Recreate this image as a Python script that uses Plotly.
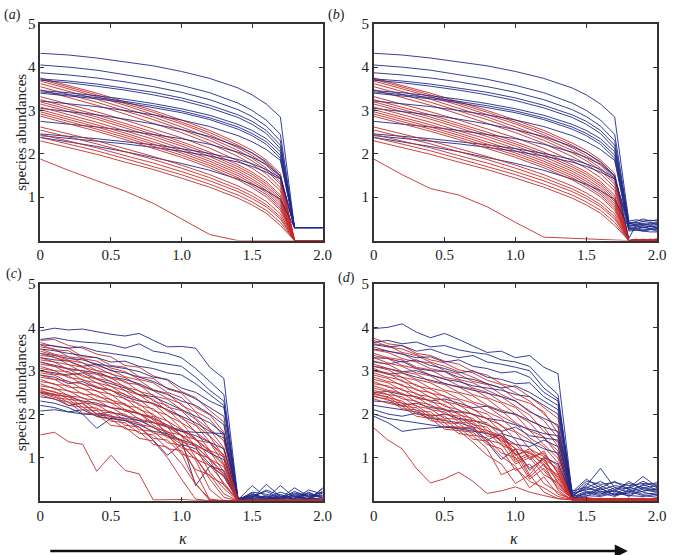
import plotly.graph_objects as go

# ---------------- data ----------------
# panels (a) and (b): smooth curves, kappa sample points of the main body
BODY_X = [0, 0.2, 0.4, 0.6, 0.8, 1.0, 1.2, 1.4, 1.5, 1.6, 1.7]
A_TAIL_X = [1.8, 1.9, 2.0]
B_TAIL_X = [1.8, 1.85, 1.9, 1.95, 2.0]

A_BLUE = [
    [4.32, 4.28, 4.21, 4.12, 4.03, 3.90, 3.74, 3.52, 3.36, 3.15, 2.85],
    [4.05, 4.00, 3.93, 3.83, 3.72, 3.58, 3.41, 3.17, 3.00, 2.78, 2.45],
    [3.87, 3.82, 3.75, 3.66, 3.55, 3.42, 3.25, 3.02, 2.86, 2.64, 2.30],
    [3.73, 3.68, 3.61, 3.52, 3.42, 3.29, 3.12, 2.90, 2.75, 2.54, 2.20],
    [3.70, 3.64, 3.56, 3.47, 3.36, 3.23, 3.06, 2.84, 2.68, 2.47, 2.12],
    [3.46, 3.41, 3.34, 3.26, 3.16, 3.04, 2.89, 2.68, 2.54, 2.35, 2.05],
    [3.43, 3.37, 3.30, 3.21, 3.11, 2.99, 2.83, 2.62, 2.47, 2.28, 1.97],
    [3.40, 3.34, 3.27, 3.18, 3.07, 2.95, 2.79, 2.57, 2.42, 2.22, 1.90],
    [3.22, 3.16, 3.09, 3.00, 2.90, 2.78, 2.63, 2.42, 2.28, 2.10, 1.85],
    [3.05, 2.98, 2.90, 2.80, 2.69, 2.56, 2.40, 2.17, 2.02, 1.82, 1.50],
    [2.75, 2.69, 2.62, 2.54, 2.45, 2.35, 2.22, 2.04, 1.92, 1.76, 1.48],
    [2.46, 2.41, 2.35, 2.28, 2.21, 2.12, 2.01, 1.87, 1.77, 1.64, 1.45],
    [2.42, 2.36, 2.30, 2.23, 2.15, 2.06, 1.95, 1.81, 1.71, 1.58, 1.42],
    [2.38, 2.28, 2.17, 2.05, 1.92, 1.78, 1.62, 1.42, 1.30, 1.15, 0.95],
]
A_BLUE_TAIL = [0.3, 0.3, 0.3]

A_RED = [
    [3.75, 3.57, 3.40, 3.20, 3.00, 2.78, 2.54, 2.25, 2.08, 1.86, 1.55],
    [3.72, 3.54, 3.36, 3.16, 2.96, 2.73, 2.49, 2.20, 2.02, 1.79, 1.48],
    [3.68, 3.50, 3.32, 3.12, 2.91, 2.69, 2.44, 2.14, 1.96, 1.74, 1.42],
    [3.62, 3.44, 3.26, 3.05, 2.85, 2.62, 2.37, 2.08, 1.90, 1.67, 1.35],
    [3.55, 3.37, 3.19, 2.99, 2.79, 2.56, 2.31, 2.02, 1.84, 1.62, 1.30],
    [3.48, 3.30, 3.12, 2.92, 2.71, 2.49, 2.24, 1.94, 1.76, 1.54, 1.22],
    [3.32, 3.15, 2.97, 2.78, 2.58, 2.37, 2.13, 1.84, 1.67, 1.45, 1.15],
    [3.25, 3.07, 2.90, 2.70, 2.50, 2.28, 2.04, 1.75, 1.58, 1.36, 1.05],
    [3.20, 3.02, 2.85, 2.65, 2.45, 2.23, 1.99, 1.70, 1.53, 1.31, 1.00],
    [3.15, 2.97, 2.80, 2.60, 2.40, 2.18, 1.94, 1.65, 1.48, 1.26, 0.95],
    [3.08, 2.91, 2.73, 2.53, 2.34, 2.12, 1.88, 1.60, 1.42, 1.21, 0.90],
    [3.02, 2.85, 2.67, 2.48, 2.28, 2.07, 1.83, 1.55, 1.37, 1.16, 0.85],
    [2.97, 2.80, 2.62, 2.43, 2.23, 2.02, 1.78, 1.50, 1.32, 1.11, 0.80],
    [2.92, 2.75, 2.57, 2.38, 2.18, 1.97, 1.73, 1.45, 1.27, 1.06, 0.75],
    [2.87, 2.70, 2.52, 2.33, 2.13, 1.92, 1.68, 1.40, 1.22, 1.01, 0.70],
    [2.62, 2.46, 2.30, 2.12, 1.94, 1.74, 1.52, 1.26, 1.10, 0.90, 0.62],
    [2.55, 2.39, 2.23, 2.05, 1.87, 1.67, 1.45, 1.19, 1.03, 0.83, 0.55],
    [2.45, 2.29, 2.14, 1.96, 1.79, 1.59, 1.38, 1.13, 0.97, 0.78, 0.50],
    [2.38, 2.22, 2.07, 1.89, 1.71, 1.52, 1.30, 1.05, 0.89, 0.70, 0.42],
    [2.30, 2.14, 1.99, 1.81, 1.64, 1.44, 1.23, 0.98, 0.82, 0.63, 0.35],
    [1.88, 1.62, 1.38, 1.14, 0.86, 0.50, 0.14, 0.00, 0.00, 0.00, 0.00],
]
A_RED_TAIL = [0, 0, 0]

B_RED_LOW = [1.88, 1.52, 1.20, 1.05, 0.78, 0.42, 0.08, 0.05, 0.04, 0.03, 0.02]
B_BLUE_TAILS = [
    [0.45, 0.48, 0.45, 0.47, 0.45],
    [0.42, 0.40, 0.44, 0.42, 0.40],
    [0.40, 0.36, 0.38, 0.35, 0.37],
    [0.38, 0.42, 0.36, 0.40, 0.38],
    [0.35, 0.33, 0.35, 0.32, 0.34],
    [0.33, 0.35, 0.30, 0.33, 0.30],
    [0.30, 0.28, 0.32, 0.28, 0.30],
    [0.28, 0.30, 0.26, 0.28, 0.25],
    [0.25, 0.27, 0.24, 0.26, 0.22],
    [0.22, 0.24, 0.22, 0.20, 0.20],
    [0.05, 0.35, 0.30, 0.33, 0.30],
    [0.35, 0.38, 0.40, 0.36, 0.42],
    [0.40, 0.44, 0.50, 0.45, 0.48],
    [0.30, 0.25, 0.22, 0.25, 0.28],
]
B_RED_TAILS = [
    [0, 0.02, 0.01, 0.03, 0.02], [0, 0, 0.02, 0, 0.01], [0, 0.01, 0, 0.02, 0],
    [0, 0.03, 0.02, 0, 0.02], [0, 0, 0, 0.01, 0], [0, 0.02, 0.03, 0.02, 0.04],
    [0, 0, 0.01, 0, 0], [0, 0.01, 0, 0.03, 0.01], [0, 0, 0.02, 0.01, 0],
    [0, 0.02, 0, 0, 0.02], [0, 0, 0.01, 0.02, 0], [0, 0.01, 0.03, 0, 0.01],
    [0, 0, 0, 0.02, 0.03], [0, 0.03, 0.01, 0, 0], [0, 0, 0.02, 0.01, 0.02],
    [0, 0.02, 0, 0.03, 0], [0, 0, 0.01, 0, 0.01], [0, 0.01, 0.02, 0.02, 0],
    [0, 0, 0, 0.01, 0.02], [0, 0.02, 0.01, 0, 0], [0, 0.01, 0.01, 0.01, 0.01],
]

# panels (c) and (d): noisy runs, kappa step 0.1
CD_X = [0, 0.1, 0.2, 0.3, 0.4, 0.5, 0.6, 0.7, 0.8, 0.9, 1.0,
        1.1, 1.2, 1.3, 1.4, 1.5, 1.6, 1.7, 1.8, 1.9, 2.0]

C_BLUE = [
    [3.92, 3.98, 3.94, 3.96, 3.90, 3.84, 3.80, 3.86, 3.70, 3.55, 3.56, 3.52, 3.08, 2.82, 0.05, 0.10, 0.22, 0.06, 0.12, 0.04, 0.28],
    [3.72, 3.76, 3.70, 3.66, 3.64, 3.60, 3.52, 3.62, 3.45, 3.40, 3.30, 3.05, 2.75, 2.45, 0.02, 0.35, 0.08, 0.05, 0.30, 0.10, 0.12],
    [3.60, 3.57, 3.52, 3.55, 3.45, 3.40, 3.35, 3.30, 3.20, 3.15, 3.10, 2.85, 2.55, 2.30, 0.03, 0.05, 0.38, 0.10, 0.04, 0.20, 0.05],
    [3.50, 3.46, 3.40, 3.35, 3.30, 3.20, 3.22, 3.10, 3.05, 2.95, 2.90, 2.70, 2.45, 2.20, 0.05, 0.12, 0.05, 0.35, 0.08, 0.05, 0.22],
    [3.40, 3.35, 3.28, 3.25, 3.15, 3.10, 3.05, 2.98, 2.85, 2.80, 2.60, 2.50, 2.30, 2.15, 0.00, 0.20, 0.15, 0.08, 0.18, 0.12, 0.08],
    [3.30, 3.25, 3.22, 3.10, 3.15, 3.00, 2.95, 2.85, 2.75, 2.60, 2.50, 2.35, 2.15, 1.95, 0.04, 0.08, 0.25, 0.12, 0.05, 0.25, 0.15],
    [3.20, 3.12, 3.05, 3.00, 2.95, 2.85, 2.80, 2.70, 2.55, 2.45, 2.30, 2.20, 2.00, 1.75, 0.02, 0.15, 0.05, 0.20, 0.10, 0.03, 0.18],
    [3.00, 2.95, 2.90, 2.95, 2.80, 2.70, 2.60, 2.45, 2.40, 2.25, 2.10, 1.95, 1.80, 1.55, 0.06, 0.03, 0.12, 0.04, 0.22, 0.08, 0.03],
    [2.90, 2.85, 2.70, 2.75, 2.60, 2.55, 2.40, 2.30, 2.25, 2.10, 1.95, 1.80, 1.60, 1.45, 0.03, 0.18, 0.03, 0.15, 0.02, 0.15, 0.10],
    [2.50, 2.45, 2.40, 2.30, 2.25, 2.15, 2.10, 2.00, 1.90, 1.75, 1.60, 1.50, 1.35, 1.20, 0.01, 0.06, 0.10, 0.02, 0.14, 0.05, 0.02],
    [2.40, 2.35, 2.20, 2.25, 2.00, 2.05, 1.95, 1.85, 1.70, 1.50, 1.40, 0.35, 0.80, 0.70, 0.00, 0.10, 0.02, 0.08, 0.06, 0.18, 0.06],
    [2.30, 2.25, 2.15, 2.00, 1.67, 1.90, 1.85, 1.75, 1.60, 1.55, 1.40, 1.30, 1.10, 0.95, 0.02, 0.02, 0.06, 0.03, 0.10, 0.02, 0.30],
    [2.20, 2.15, 2.05, 2.10, 1.95, 1.90, 1.85, 1.70, 1.40, 1.05, 1.30, 1.20, 0.85, 0.55, 0.00, 0.04, 0.02, 0.10, 0.03, 0.06, 0.04],
    [2.07, 2.10, 2.05, 2.00, 1.98, 1.95, 1.90, 1.85, 1.80, 1.70, 1.60, 1.58, 1.56, 1.55, 0.03, 0.14, 0.08, 0.02, 0.16, 0.10, 0.20],
]

C_RED = [
    [3.70, 3.72, 3.58, 3.52, 3.38, 3.32, 3.12, 3.08, 2.88, 2.78, 2.52, 2.38, 2.08, 1.82, 0.00, 0, 0.02, 0, 0.01, 0, 0],
    [3.65, 3.56, 3.52, 3.32, 3.30, 3.12, 3.08, 2.86, 2.82, 2.58, 2.48, 2.16, 1.98, 1.58, 0.00, 0, 0, 0.01, 0, 0.02, 0],
    [3.60, 3.48, 3.46, 3.28, 3.22, 3.06, 2.98, 2.80, 2.72, 2.50, 2.38, 2.06, 1.88, 1.48, 0.01, 0.02, 0, 0, 0.02, 0, 0.01],
    [3.55, 3.50, 3.32, 3.28, 3.12, 3.02, 2.86, 2.78, 2.56, 2.48, 2.20, 2.04, 1.66, 1.38, 0.00, 0, 0.01, 0.02, 0, 0, 0.02],
    [3.50, 3.38, 3.32, 3.18, 3.08, 2.92, 2.84, 2.66, 2.54, 2.36, 2.24, 1.90, 1.64, 1.22, 0.02, 0.01, 0, 0, 0.01, 0.03, 0],
    [3.45, 3.36, 3.24, 3.18, 3.00, 2.94, 2.72, 2.68, 2.42, 2.34, 2.10, 1.88, 1.50, 1.18, 0.00, 0, 0.02, 0.01, 0, 0, 0.01],
    [3.40, 3.30, 3.22, 3.08, 3.00, 2.82, 2.76, 2.52, 2.44, 2.16, 2.08, 1.76, 1.48, 1.02, 0.01, 0.02, 0, 0, 0.03, 0.01, 0],
    [3.35, 3.32, 3.14, 3.08, 2.92, 2.84, 2.62, 2.54, 2.30, 2.20, 1.90, 1.74, 1.36, 0.98, 0.00, 0, 0, 0.02, 0, 0, 0.02],
    [3.30, 3.20, 3.14, 2.96, 2.92, 2.74, 2.64, 2.44, 2.34, 2.06, 1.94, 1.58, 1.34, 0.86, 0.00, 0.01, 0.02, 0, 0.01, 0, 0],
    [3.25, 3.20, 3.02, 3.00, 2.82, 2.76, 2.54, 2.44, 2.22, 2.10, 1.80, 1.60, 1.16, 0.84, 0.02, 0, 0, 0.01, 0, 0.02, 0.01],
    [3.20, 3.10, 3.04, 2.86, 2.82, 2.64, 2.54, 2.32, 2.24, 1.96, 1.80, 1.40, 1.14, 0.66, 0.00, 0.02, 0.01, 0, 0, 0, 0],
    [3.15, 3.10, 2.94, 2.90, 2.72, 2.64, 2.44, 2.34, 2.08, 1.98, 1.66, 1.44, 0.96, 0.58, 0.00, 0, 0, 0.02, 0.01, 0.01, 0.02],
    [3.10, 3.00, 2.98, 2.78, 2.72, 2.54, 2.46, 2.20, 2.12, 1.84, 1.64, 1.26, 0.94, 0.36, 0.01, 0, 0.02, 0, 0, 0.02, 0],
    [3.05, 3.00, 2.84, 2.80, 2.62, 2.56, 2.34, 2.24, 1.96, 1.84, 1.50, 1.24, 0.66, 0.28, 0.00, 0.01, 0, 0, 0.02, 0, 0.01],
    [3.00, 2.92, 2.88, 2.68, 2.64, 2.44, 2.36, 2.10, 2.00, 1.70, 1.50, 1.00, 0.50, 0.08, 0.00, 0, 0, 0.01, 0, 0.01, 0],
    [2.95, 2.90, 2.74, 2.70, 2.52, 2.46, 2.20, 2.14, 1.86, 1.70, 1.30, 0.94, 0.26, 0.00, 0.00, 0, 0.01, 0, 0, 0, 0.02],
    [2.90, 2.80, 2.76, 2.58, 2.54, 2.32, 2.24, 2.00, 1.90, 1.52, 1.30, 0.66, 0.02, 0.00, 0.00, 0.02, 0, 0, 0.01, 0, 0],
    [2.85, 2.80, 2.62, 2.60, 2.40, 2.34, 2.10, 2.02, 1.74, 1.56, 1.10, 0.40, 0.00, 0.00, 0.00, 0, 0, 0.02, 0, 0.01, 0.01],
    [2.80, 2.68, 2.66, 2.46, 2.44, 2.26, 2.22, 2.00, 1.94, 1.70, 1.64, 1.40, 1.34, 1.06, 0.00, 0.01, 0.02, 0, 0, 0, 0],
    [2.75, 2.70, 2.52, 2.48, 2.32, 2.26, 2.06, 2.02, 1.80, 1.74, 1.50, 1.42, 1.16, 1.02, 0.01, 0, 0, 0.01, 0.02, 0.02, 0],
    [2.70, 2.58, 2.54, 2.36, 2.32, 2.14, 2.10, 1.88, 1.82, 1.58, 1.52, 1.26, 1.14, 0.82, 0.00, 0, 0.01, 0, 0, 0, 0.01],
    [2.65, 2.60, 2.42, 2.38, 2.20, 2.16, 1.96, 1.90, 1.68, 1.60, 1.36, 1.26, 0.96, 0.78, 0.00, 0.02, 0, 0, 0.01, 0, 0],
    [2.60, 2.50, 2.44, 2.26, 2.22, 2.02, 2.00, 1.76, 1.70, 1.46, 1.40, 1.10, 0.98, 0.62, 0.02, 0, 0, 0.02, 0, 0.01, 0.02],
    [2.58, 2.52, 2.34, 2.30, 2.10, 2.06, 1.86, 1.80, 1.56, 1.50, 1.22, 1.14, 0.80, 0.58, 0.00, 0.01, 0.01, 0, 0, 0, 0],
    [2.55, 2.44, 2.40, 2.16, 2.14, 1.92, 1.90, 1.64, 1.60, 1.34, 1.28, 0.96, 0.82, 0.40, 0.00, 0, 0, 0, 0.02, 0, 0.01],
    [2.52, 2.46, 2.26, 2.24, 2.00, 1.98, 1.74, 1.70, 1.44, 1.40, 1.08, 0.98, 0.56, 0.38, 0.01, 0, 0.02, 0.01, 0, 0.02, 0],
    [2.50, 2.38, 2.34, 2.10, 2.08, 1.84, 1.80, 1.56, 1.52, 1.20, 1.16, 0.72, 0.60, 0.16, 0.00, 0.02, 0, 0, 0, 0, 0.02],
    [2.48, 2.42, 2.20, 2.16, 1.94, 1.88, 1.66, 1.60, 1.30, 1.24, 0.86, 0.38, 0.04, 0.00, 0.00, 0, 0, 0.02, 0.01, 0, 0],
    [2.45, 2.34, 2.28, 2.02, 2.00, 1.74, 1.70, 1.44, 1.38, 1.00, 0.50, 0.04, 0.00, 0.00, 0.00, 0.01, 0, 0, 0, 0.01, 0.01],
    [1.52, 1.58, 1.36, 1.30, 0.68, 1.05, 0.70, 0.62, 0.02, 0.03, 0.03, 0.01, 0.00, 0.00, 0.00, 0, 0, 0, 0, 0, 0],
]

D_BLUE = [
    [3.97, 4.00, 4.08, 3.89, 3.76, 3.86, 3.72, 3.57, 3.42, 3.45, 3.30, 3.35, 3.08, 2.93, 0.15, 0.45, 0.38, 0.42, 0.35, 0.40, 0.38],
    [3.65, 3.70, 3.62, 3.66, 3.55, 3.58, 3.48, 3.42, 3.38, 3.25, 3.20, 3.10, 2.75, 2.45, 0.10, 0.35, 0.75, 0.30, 0.28, 0.45, 0.30],
    [3.60, 3.55, 3.58, 3.45, 3.50, 3.38, 3.30, 3.35, 3.20, 3.15, 3.08, 3.00, 2.60, 2.35, 0.20, 0.50, 0.30, 0.45, 0.25, 0.35, 0.42],
    [3.50, 3.45, 3.38, 3.30, 3.32, 3.20, 3.25, 3.10, 3.05, 2.95, 2.98, 2.85, 2.50, 2.30, 0.12, 0.30, 0.45, 0.25, 0.40, 0.30, 0.25],
    [3.30, 3.28, 3.20, 3.25, 3.12, 3.05, 2.95, 3.00, 2.85, 2.80, 2.70, 2.72, 2.40, 2.20, 0.08, 0.40, 0.25, 0.35, 0.30, 0.56, 0.32],
    [3.20, 3.15, 3.22, 3.05, 3.00, 2.98, 2.85, 2.80, 2.70, 2.60, 2.65, 2.50, 2.30, 2.10, 0.18, 0.25, 0.35, 0.20, 0.45, 0.25, 0.20],
    [3.10, 3.05, 2.98, 3.00, 2.90, 2.80, 2.75, 2.65, 2.60, 2.55, 2.45, 2.40, 2.20, 2.00, 0.05, 0.20, 0.15, 0.30, 0.20, 0.30, 0.35],
    [3.00, 2.92, 2.95, 2.85, 2.78, 2.70, 2.62, 2.55, 2.48, 2.40, 2.30, 2.05, 1.90, 1.75, 0.10, 0.15, 0.30, 0.12, 0.25, 0.15, 0.18],
    [2.50, 2.52, 2.45, 2.40, 2.30, 2.35, 2.25, 2.15, 2.18, 2.05, 2.00, 1.85, 1.70, 1.60, 0.22, 0.32, 0.20, 0.22, 0.15, 0.22, 0.28],
    [2.30, 2.28, 2.20, 2.25, 2.15, 2.10, 2.05, 2.00, 1.90, 1.85, 1.75, 1.65, 1.55, 1.50, 0.06, 0.12, 0.10, 0.18, 0.12, 0.10, 0.15],
    [2.20, 2.15, 2.10, 2.05, 1.95, 2.00, 1.90, 1.85, 1.75, 1.60, 1.70, 1.50, 1.45, 1.40, 0.14, 0.28, 0.22, 0.15, 0.32, 0.20, 0.12],
    [2.10, 2.00, 1.95, 2.02, 1.90, 1.85, 1.80, 1.70, 1.40, 1.55, 1.45, 1.35, 1.20, 1.10, 0.04, 0.18, 0.12, 0.25, 0.10, 0.28, 0.22],
    [2.00, 1.90, 1.85, 1.80, 1.75, 1.70, 1.68, 1.65, 1.35, 0.95, 1.20, 0.70, 1.00, 0.85, 0.09, 0.22, 0.18, 0.10, 0.22, 0.12, 0.08],
    [1.95, 1.80, 1.60, 1.65, 1.68, 1.70, 1.66, 1.60, 1.55, 1.50, 1.30, 1.25, 1.40, 1.25, 0.03, 0.10, 0.28, 0.14, 0.18, 0.38, 0.25],
]

D_RED = [
    [3.75, 3.62, 3.58, 3.40, 3.35, 3.22, 3.15, 2.98, 2.90, 2.70, 2.62, 2.40, 2.15, 1.90, 0.05, 0.08, 0.03, 0.02, 0.05, 0.02, 0.04],
    [3.70, 3.55, 3.50, 3.38, 3.25, 3.18, 3.02, 2.95, 2.78, 2.68, 2.48, 2.30, 2.00, 1.70, 0.02, 0.03, 0.06, 0.02, 0.01, 0.04, 0.02],
    [3.62, 3.58, 3.42, 3.35, 3.20, 3.10, 2.98, 2.85, 2.70, 2.60, 2.35, 2.25, 2.05, 1.55, 0.06, 0.02, 0.02, 0.05, 0.03, 0.02, 0.05],
    [3.55, 3.45, 3.40, 3.22, 3.18, 3.00, 2.92, 2.75, 2.68, 2.45, 2.30, 2.08, 1.85, 1.45, 0.03, 0.05, 0.01, 0.02, 0.06, 0.01, 0.02],
    [3.48, 3.42, 3.28, 3.20, 3.05, 2.98, 2.80, 2.72, 2.55, 2.40, 2.18, 1.98, 1.60, 1.35, 0.08, 0.02, 0.04, 0.03, 0.02, 0.05, 0.01],
    [3.40, 3.30, 3.25, 3.08, 3.02, 2.85, 2.78, 2.60, 2.50, 2.28, 2.15, 1.85, 1.70, 1.25, 0.04, 0.06, 0.02, 0.01, 0.03, 0.02, 0.06],
    [3.35, 3.28, 3.12, 3.05, 2.90, 2.82, 2.65, 2.58, 2.38, 2.25, 2.00, 1.80, 1.45, 1.15, 0.02, 0.01, 0.05, 0.03, 0.02, 0.03, 0.02],
    [3.30, 3.18, 3.10, 2.95, 2.88, 2.70, 2.62, 2.45, 2.35, 2.10, 1.98, 1.62, 1.48, 1.05, 0.07, 0.04, 0.02, 0.06, 0.01, 0.02, 0.03],
    [3.22, 3.15, 2.98, 2.92, 2.75, 2.68, 2.50, 2.42, 2.20, 2.08, 1.80, 1.62, 1.30, 0.98, 0.03, 0.02, 0.03, 0.02, 0.04, 0.06, 0.01],
    [3.15, 3.05, 2.95, 2.80, 2.72, 2.55, 2.48, 2.28, 2.18, 1.95, 1.78, 1.45, 1.25, 0.88, 0.05, 0.03, 0.01, 0.04, 0.02, 0.01, 0.04],
    [3.10, 3.02, 2.85, 2.78, 2.60, 2.52, 2.35, 2.25, 2.05, 1.90, 1.60, 1.40, 1.05, 0.80, 0.02, 0.05, 0.03, 0.01, 0.05, 0.03, 0.02],
    [3.05, 2.92, 2.85, 2.65, 2.58, 2.40, 2.32, 2.10, 2.00, 1.72, 1.58, 1.20, 1.02, 0.70, 0.06, 0.02, 0.04, 0.02, 0.03, 0.02, 0.05],
    [3.00, 2.95, 2.75, 2.68, 2.48, 2.42, 2.20, 2.12, 1.88, 1.75, 1.40, 0.95, 1.15, 0.62, 0.04, 0.03, 0.02, 0.05, 0.02, 0.04, 0.02],
    [2.95, 2.85, 2.78, 2.55, 2.50, 2.28, 2.22, 1.98, 1.90, 1.60, 1.05, 1.20, 0.90, 0.55, 0.02, 0.01, 0.03, 0.02, 0.04, 0.02, 0.03],
    [2.90, 2.82, 2.65, 2.58, 2.38, 2.32, 2.08, 2.00, 1.75, 1.62, 0.95, 1.10, 0.85, 0.45, 0.05, 0.04, 0.02, 0.03, 0.01, 0.03, 0.01],
    [2.85, 2.75, 2.68, 2.45, 2.40, 2.18, 2.10, 1.85, 1.80, 1.48, 1.20, 0.60, 1.00, 0.40, 0.03, 0.02, 0.05, 0.01, 0.03, 0.05, 0.02],
    [2.80, 2.72, 2.55, 2.48, 2.28, 2.22, 1.98, 1.90, 1.62, 1.50, 0.90, 1.05, 0.70, 0.30, 0.06, 0.03, 0.01, 0.04, 0.02, 0.01, 0.04],
    [2.75, 2.62, 2.58, 2.36, 2.32, 2.08, 2.02, 1.75, 1.70, 1.35, 1.10, 0.55, 0.85, 0.25, 0.02, 0.05, 0.02, 0.02, 0.05, 0.02, 0.02],
    [2.70, 2.65, 2.45, 2.40, 2.18, 2.12, 1.88, 1.82, 1.55, 1.45, 1.20, 1.10, 0.95, 0.75, 0.04, 0.02, 0.04, 0.03, 0.01, 0.04, 0.03],
    [2.65, 2.55, 2.48, 2.28, 2.22, 2.00, 1.95, 1.70, 1.62, 1.38, 1.30, 1.00, 1.10, 0.65, 0.05, 0.03, 0.02, 0.05, 0.03, 0.02, 0.01],
    [2.60, 2.52, 2.35, 2.30, 2.10, 2.05, 1.82, 1.78, 1.50, 1.42, 1.05, 1.15, 0.80, 0.60, 0.02, 0.04, 0.03, 0.02, 0.04, 0.01, 0.04],
    [2.55, 2.45, 2.40, 2.18, 2.12, 1.90, 1.88, 1.62, 1.58, 1.28, 1.15, 0.75, 0.95, 0.50, 0.06, 0.02, 0.05, 0.01, 0.02, 0.03, 0.02],
    [2.50, 2.45, 2.25, 2.20, 1.98, 1.95, 1.70, 1.68, 1.40, 1.32, 0.85, 1.00, 0.60, 0.42, 0.03, 0.05, 0.01, 0.04, 0.03, 0.02, 0.05],
    [2.48, 2.38, 2.30, 2.08, 2.05, 1.80, 1.78, 1.52, 1.45, 1.10, 1.00, 0.50, 0.75, 0.35, 0.04, 0.01, 0.03, 0.02, 0.05, 0.04, 0.01],
    [2.45, 2.40, 2.18, 2.15, 1.92, 1.88, 1.62, 1.58, 1.30, 1.20, 0.70, 0.85, 0.40, 0.20, 0.02, 0.03, 0.02, 0.04, 0.02, 0.01, 0.03],
    [2.42, 2.32, 2.25, 2.00, 1.98, 1.72, 1.70, 1.42, 1.38, 1.02, 0.80, 0.30, 0.55, 0.15, 0.05, 0.02, 0.04, 0.01, 0.03, 0.05, 0.02],
    [2.40, 2.35, 2.12, 2.10, 1.85, 1.80, 1.55, 1.50, 1.20, 0.60, 0.75, 0.45, 0.30, 0.10, 0.03, 0.04, 0.01, 0.03, 0.02, 0.02, 0.04],
    [2.35, 2.25, 2.18, 1.95, 1.90, 1.65, 1.62, 1.35, 1.05, 0.85, 0.40, 0.60, 0.20, 0.05, 0.02, 0.01, 0.03, 0.02, 0.04, 0.03, 0.01],
    [1.68, 1.40, 1.20, 0.75, 0.41, 0.51, 0.66, 0.45, 0.17, 0.23, 0.32, 0.20, 0.12, 0.05, 0.02, 0.03, 0.01, 0.02, 0.01, 0.02, 0.01],
]

X_TICKS = [0, 0.5, 1.0, 1.5, 2.0]
X_TICK_TEXT = ["0", "0.5", "1.0", "1.5", "2.0"]
Y_TICKS = [1, 2, 3, 4, 5]
Y_TICK_TEXT = ["1", "2", "3", "4", "5"]
PANEL_LABELS = ["a", "b", "c", "d"]

# ---------------- build series per panel ----------------
panel_series = []
# (a)
blue_a = [(BODY_X + A_TAIL_X, b + A_BLUE_TAIL) for b in A_BLUE]
red_a = [(BODY_X + A_TAIL_X, r + A_RED_TAIL) for r in A_RED]
panel_series.append((blue_a, red_a))
# (b)
blue_b = [(BODY_X + B_TAIL_X, b + t) for b, t in zip(A_BLUE, B_BLUE_TAILS)]
red_bodies_b = A_RED[:-1] + [B_RED_LOW]
red_b = [(BODY_X + B_TAIL_X, r + t) for r, t in zip(red_bodies_b, B_RED_TAILS)]
panel_series.append((blue_b, red_b))
# (c), (d)
panel_series.append(([(CD_X, b) for b in C_BLUE], [(CD_X, r) for r in C_RED]))
panel_series.append(([(CD_X, b) for b in D_BLUE], [(CD_X, r) for r in D_RED]))

BLUE = "#1f2a88"
RED = "#c62a2a"
W, H = 676, 555

fig = go.Figure()
for p, (blues, reds) in enumerate(panel_series):
    xa = "x" if p == 0 else f"x{p+1}"
    ya = "y" if p == 0 else f"y{p+1}"
    n = max(len(blues), len(reds))
    for i in range(n):
        if i < len(reds):
            xs, ys = reds[i]
            fig.add_trace(go.Scatter(x=xs, y=ys, mode="lines", xaxis=xa, yaxis=ya,
                                     line=dict(color=RED, width=0.9), hoverinfo="skip",
                                     showlegend=False))
        if i < len(blues):
            xs, ys = blues[i]
            fig.add_trace(go.Scatter(x=xs, y=ys, mode="lines", xaxis=xa, yaxis=ya,
                                     line=dict(color=BLUE, width=0.9), hoverinfo="skip",
                                     showlegend=False))

# panel pixel boxes: (left, right, top, bottom)
boxes = [(37, 325, 16, 236), (377, 666, 16, 236), (37, 325, 280, 500), (377, 666, 280, 500)]
font_fam = "Liberation Serif"
axis_common = dict(showline=True, mirror="ticks", linecolor="#333333", linewidth=1.5,
                   ticks="inside", ticklen=4, tickwidth=1, tickcolor="#333333",
                   showgrid=False, zeroline=False, fixedrange=True,
                   tickfont=dict(family=font_fam, size=15, color="#222222"))
layout = dict(width=W, height=H, margin=dict(l=0, r=0, t=0, b=0), autosize=False,
              paper_bgcolor="white", plot_bgcolor="white", showlegend=False,
              font=dict(family=font_fam))
for p, (l, r, t, b) in enumerate(boxes):
    kx = "xaxis" if p == 0 else f"xaxis{p+1}"
    ky = "yaxis" if p == 0 else f"yaxis{p+1}"
    layout[kx] = dict(domain=[l / W, r / W], range=[0, 2], anchor="y" if p == 0 else f"y{p+1}",
                      tickvals=X_TICKS, ticktext=X_TICK_TEXT, **axis_common)
    layout[ky] = dict(domain=[1 - b / H, 1 - t / H], range=[0, 5], anchor="x" if p == 0 else f"x{p+1}",
                      tickvals=Y_TICKS, ticktext=Y_TICK_TEXT, **axis_common)
fig.update_layout(**layout)

ann = []
label_pos = [(9, 7), (339, 7), (10, 270), (349, 274)]
for (px, py), lab in zip(label_pos, PANEL_LABELS):
    ann.append(dict(x=px / W, y=1 - py / H, xref="paper", yref="paper", showarrow=False,
                    text=f"(<i>{lab}</i>)", font=dict(family=font_fam, size=14, color="#222222"),
                    xanchor="center", yanchor="middle"))
for py in (126, 390):
    ann.append(dict(x=18 / W, y=1 - py / H, xref="paper", yref="paper", showarrow=False,
                    text="species abundances", textangle=-90,
                    font=dict(family=font_fam, size=15, color="#222222"),
                    xanchor="center", yanchor="middle"))
for px in (182, 520):
    ann.append(dict(x=px / W, y=1 - 538 / H, xref="paper", yref="paper", showarrow=False,
                    text="<i>κ</i>", font=dict(family=font_fam, size=16, color="#222222"),
                    xanchor="center", yanchor="middle"))
ann.append(dict(x=636 / W, y=1 - 551 / H, xref="paper", yref="paper", text="",
                showarrow=True, ax=57 - 636, ay=0, axref="pixel", ayref="pixel",
                arrowhead=2, arrowsize=1, arrowwidth=2.6, arrowcolor="#111111"))
fig.update_layout(annotations=ann)

fig.write_html("out.html", config={"displayModeBar": False},
               post_script="document.body.style.margin='0';document.body.style.overflow='hidden';")
